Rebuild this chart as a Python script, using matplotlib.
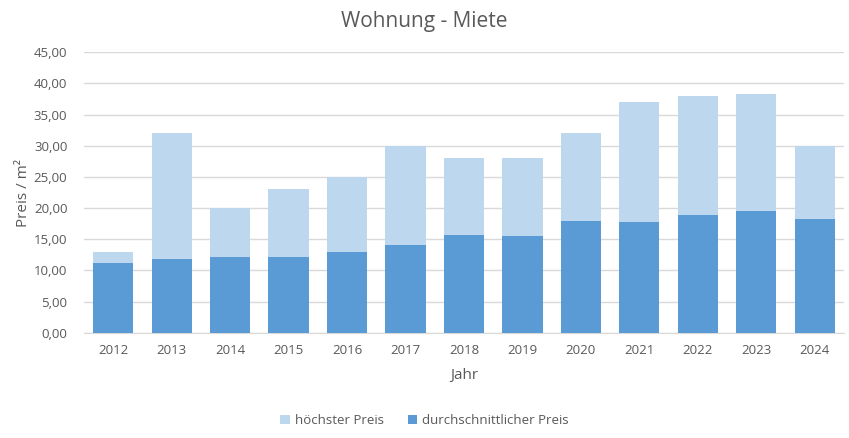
import matplotlib
matplotlib.use("Agg")
import matplotlib.pyplot as plt
from matplotlib.ticker import FuncFormatter, MultipleLocator

years = ["2012", "2013", "2014", "2015", "2016", "2017", "2018",
         "2019", "2020", "2021", "2022", "2023", "2024"]
hoechster = [13.0, 32.0, 20.0, 23.0, 25.0, 30.0, 28.0, 28.0, 32.0, 37.0, 38.0, 38.3, 30.0]
durchschnitt = [11.2, 11.85, 12.2, 12.2, 13.0, 14.1, 15.7, 15.55, 17.9, 17.8, 18.9, 19.5, 18.3]

plt.rcParams['font.family'] = ['Open Sans', 'DejaVu Sans']
txt = '#595959'

fig = plt.figure(figsize=(8.49, 4.38), dpi=100)
ax = fig.add_axes([0.099, 0.240, 0.895, 0.641])

x = list(range(len(years)))
ax.bar(x, hoechster, width=0.69, color='#BDD7EE', label='höchster Preis', zorder=2)
ax.bar(x, durchschnitt, width=0.69, color='#5B9BD5', label='durchschnittlicher Preis', zorder=3)

ax.set_xlim(-0.5, len(years) - 0.5)
ax.set_ylim(0, 45)
ax.yaxis.set_major_locator(MultipleLocator(5))
ax.yaxis.set_major_formatter(FuncFormatter(lambda v, p: f"{v:.2f}".replace('.', ',')))
ax.set_xticks(x)
ax.set_xticklabels(years)
ax.grid(axis='y', color='#D9D9D9', linewidth=1, zorder=0)
ax.set_axisbelow(True)
for s in ['top', 'right', 'left']:
    ax.spines[s].set_visible(False)
ax.spines['bottom'].set_color('#D9D9D9')
ax.tick_params(axis='both', length=0, labelsize=9.5, colors=txt, pad=8)
ax.tick_params(axis='y', pad=12)

ax.set_xlabel('Jahr', fontsize=11, color=txt, labelpad=8)
ax.set_ylabel('Preis / m²', fontsize=11, color=txt, labelpad=2)
fig.suptitle('Wohnung - Miete', fontsize=15, color=txt, y=0.975)

handles, labels = ax.get_legend_handles_labels()
fig.legend(handles, labels, loc='center', bbox_to_anchor=(0.5, 0.04), ncol=2,
           frameon=False, fontsize=9.5, labelcolor=txt, handlelength=0.7,
           handleheight=0.7, handletextpad=0.4, columnspacing=1.8)

fig.savefig('out.png', dpi=100)
